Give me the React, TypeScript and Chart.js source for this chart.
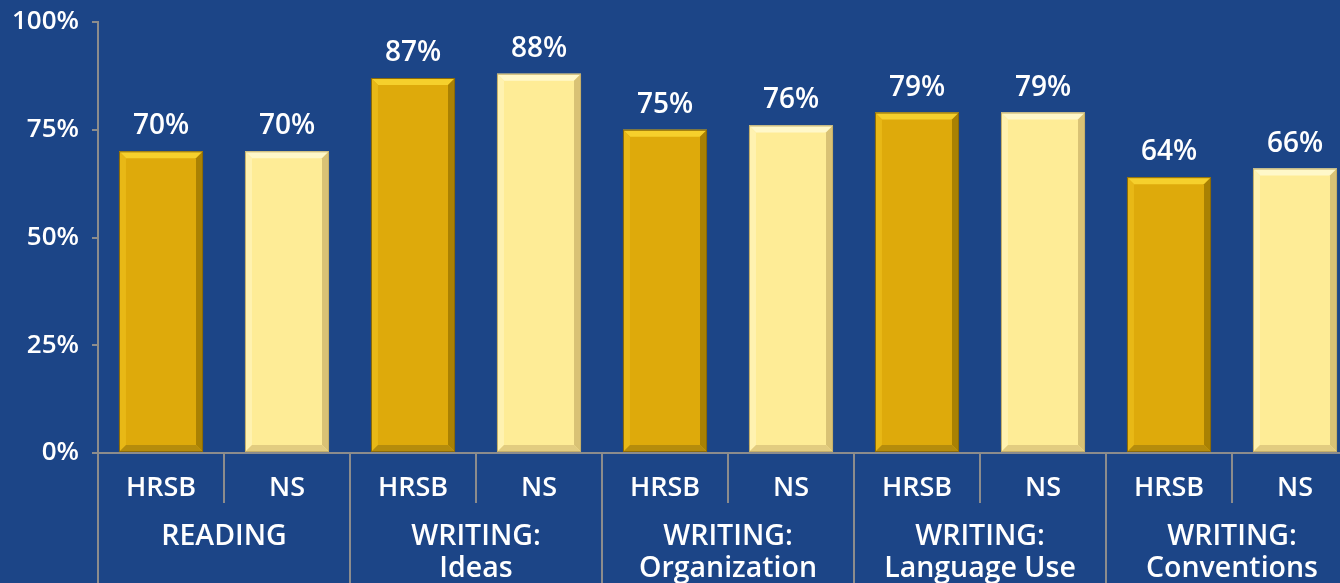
import React, { useEffect, useRef } from "react";
import { Chart, registerables } from "chart.js";

Chart.register(...registerables);

const groups: string[][] = [
  ["READING"],
  ["WRITING:", "Ideas"],
  ["WRITING:", "Organization"],
  ["WRITING:", "Language Use"],
  ["WRITING:", "Conventions"],
];
const seriesNames = ["HRSB", "NS"];
const hrsbValues = [70, 87, 75, 79, 64];
const nsValues = [70, 88, 76, 79, 66];
const yTicks = [0, 25, 50, 75, 100];

const BG = "#1C4587";
const AXIS = "#8C8C8C";
const FONT = "'Open Sans', 'DejaVu Sans', sans-serif";

const palettes = [
  { face: "#DEAA0B", top: "#F6D02C", left: "#E8B816", right: "#A98103", bottom: "#B58C0C", edge: "#8A6A08" },
  { face: "#FEEC96", top: "#FFF8C9", left: "#FFF2B0", right: "#D9C275", bottom: "#E2CC80", edge: "#C4AF6A" },
];

const bevelPlugin = {
  id: "bevel",
  afterDatasetsDraw(chart: any) {
    const ctx = chart.ctx;
    chart.data.datasets.forEach((ds: any, di: number) => {
      const meta = chart.getDatasetMeta(di);
      const p = palettes[di];
      meta.data.forEach((bar: any) => {
        const { x, y, base, width } = bar.getProps(["x", "y", "base", "width"], true);
        const l = x - width / 2;
        const r = x + width / 2;
        const t = y;
        const b = base;
        const bv = 7;
        ctx.save();
        const poly = (pts: number[][], color: string) => {
          ctx.beginPath();
          ctx.moveTo(pts[0][0], pts[0][1]);
          for (let i = 1; i < pts.length; i++) ctx.lineTo(pts[i][0], pts[i][1]);
          ctx.closePath();
          ctx.fillStyle = color;
          ctx.fill();
        };
        poly([[l, t], [r, t], [r - bv, t + bv], [l + bv, t + bv]], p.top);
        poly([[l, t], [l + bv, t + bv], [l + bv, b - bv], [l, b]], p.left);
        poly([[r, t], [r - bv, t + bv], [r - bv, b - bv], [r, b]], p.right);
        poly([[l, b], [l + bv, b - bv], [r - bv, b - bv], [r, b]], p.bottom);
        ctx.strokeStyle = p.edge;
        ctx.lineWidth = 1;
        ctx.strokeRect(l + 0.5, t + 0.5, width - 1, b - t - 1);
        ctx.restore();
      });
    });
  },
};

const labelsPlugin = {
  id: "labelsOverlay",
  afterDraw(chart: any) {
    const ctx = chart.ctx;
    const area = chart.chartArea;
    const xScale = chart.scales.x;
    const H = chart.height;
    ctx.save();
    ctx.fillStyle = "#FFFFFF";
    ctx.textAlign = "center";
    ctx.textBaseline = "alphabetic";
    ctx.font = `600 28px ${FONT}`;
    chart.data.datasets.forEach((ds: any, di: number) => {
      const meta = chart.getDatasetMeta(di);
      meta.data.forEach((bar: any, i: number) => {
        const { x, y } = bar.getProps(["x", "y"], true);
        ctx.fillText(`${ds.data[i]}%`, x, y - 17);
      });
    });
    ctx.strokeStyle = AXIS;
    ctx.lineWidth = 2;
    const n = groups.length;
    const left = area.left;
    const groupW = xScale.getPixelForValue(1) - xScale.getPixelForValue(0);
    ctx.beginPath();
    ctx.moveTo(left, area.bottom);
    ctx.lineTo(left, H);
    ctx.stroke();
    for (let g = 0; g < n; g++) {
      const gx = left + g * groupW;
      if (g > 0) {
        ctx.beginPath();
        ctx.moveTo(gx, area.bottom);
        ctx.lineTo(gx, H);
        ctx.stroke();
      }
      const mid = gx + groupW / 2;
      ctx.beginPath();
      ctx.moveTo(mid, area.bottom);
      ctx.lineTo(mid, area.bottom + 50);
      ctx.stroke();
    }
    ctx.fillStyle = "#FFFFFF";
    ctx.textBaseline = "middle";
    for (let g = 0; g < n; g++) {
      const gx = left + g * groupW;
      ctx.font = `600 27px ${FONT}`;
      seriesNames.forEach((s, si) => {
        ctx.fillText(s, gx + groupW / 4 + (si * groupW) / 2, area.bottom + 35);
      });
      ctx.font = `600 28.5px ${FONT}`;
      groups[g].forEach((line, li) => {
        ctx.fillText(line, gx + groupW / 2, area.bottom + 84 + li * 32);
      });
    }
    ctx.restore();
  },
};

export default function App() {
  const ref = useRef<HTMLCanvasElement | null>(null);
  useEffect(() => {
    document.body.style.margin = "0";
    document.body.style.background = BG;
    const canvas = ref.current!;
    const chart = new Chart(canvas, {
      type: "bar",
      data: {
        labels: groups.map((g) => g.join(" ")),
        datasets: [
          { label: seriesNames[0], data: hrsbValues, backgroundColor: palettes[0].face, borderWidth: 0 },
          { label: seriesNames[1], data: nsValues, backgroundColor: palettes[1].face, borderWidth: 0 },
        ],
      },
      options: {
        responsive: false,
        animation: false,
        devicePixelRatio: 1,
        layout: { padding: { top: 22, right: 0, left: 0, bottom: 0 } },
        plugins: { legend: { display: false }, tooltip: { enabled: false } },
        datasets: { bar: { categoryPercentage: 1, barPercentage: 0.667 } } as any,
        scales: {
          x: {
            grid: { display: false },
            border: { color: AXIS, width: 2 },
            ticks: { display: false },
            afterFit: (s: any) => {
              s.height = 130;
              s.paddingLeft = 0;
              s.paddingRight = 0;
            },
          },
          y: {
            min: 0,
            max: 100,
            afterBuildTicks: (s: any) => {
              s.ticks = yTicks.map((v) => ({ value: v }));
            },
            grid: { drawOnChartArea: false, drawTicks: true, tickLength: 6, color: AXIS, lineWidth: 2 },
            border: { color: AXIS, width: 2 },
            ticks: {
              color: "#FFFFFF",
              padding: 13,
              font: { family: FONT, size: 26, weight: "600" as any },
              callback: (v: any) => `${v}%`,
            },
            afterFit: (s: any) => {
              s.width = 98;
              s.paddingTop = 0;
              s.paddingBottom = 0;
            },
          },
        },
      },
      plugins: [bevelPlugin, labelsPlugin],
    });
    (document as any).fonts?.ready?.then(() => chart.update());
    return () => chart.destroy();
  }, []);
  return (
    <div style={{ position: "fixed", left: 0, top: 0, width: 1340, height: 583, overflow: "hidden", background: BG }}>
      <canvas ref={ref} width={1358} height={583} style={{ width: 1358, height: 583, display: "block" }} />
    </div>
  );
}
